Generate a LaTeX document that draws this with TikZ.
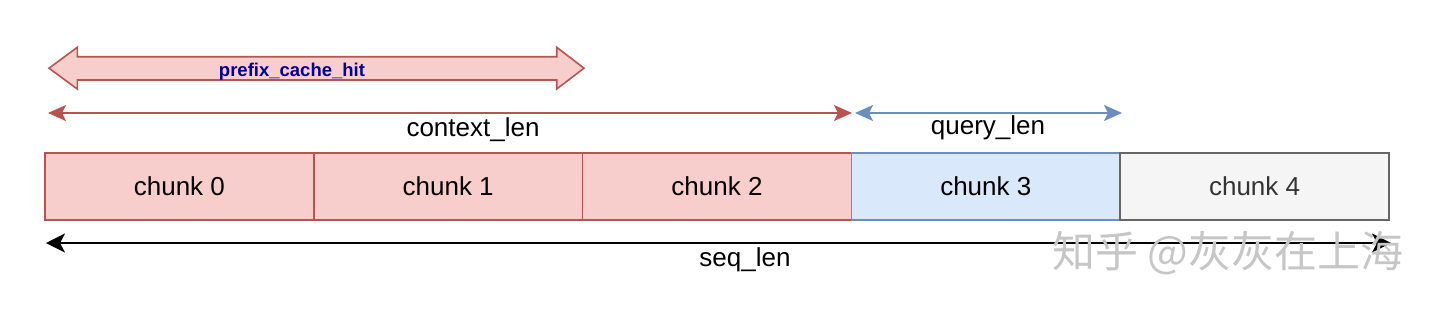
\documentclass[tikz,border=0pt]{standalone}
\usepackage{fontspec}
\setmainfont{Liberation Sans}
\newfontfamily\cjk{Noto Sans CJK SC}
\usetikzlibrary{arrows.meta,positioning}
\definecolor{hitfill}{HTML}{F8CECC}
\definecolor{hitline}{HTML}{B85450}
\definecolor{qryfill}{HTML}{DAE8FC}
\definecolor{qryline}{HTML}{6C8EBF}
\definecolor{restfill}{HTML}{F5F5F5}
\definecolor{restline}{HTML}{666666}
\definecolor{hitlabel}{HTML}{000099}

\begin{document}
\begin{tikzpicture}[x=1pt,y=-1pt,font=\fontsize{26}{30}\selectfont,
  chunk/.style={draw,line width=1.6pt,outer sep=0pt,inner sep=0pt,
    minimum width=268.8pt,minimum height=67pt},
  hitchunk/.style={chunk,fill=hitfill,draw=hitline},
  qrychunk/.style={chunk,fill=qryfill,draw=qryline},
  restchunk/.style={chunk,fill=restfill,draw=restline,text=black!80},
  lenarrow/.style={line width=1.6pt,{Stealth[length=18pt,width=16pt,inset=4pt]}-{Stealth[length=18pt,width=16pt,inset=4pt]}}]
  \useasboundingbox (0,0) rectangle (1440,314);
  % the five chunks of the sequence
  \node[hitchunk] (c0) at (179.4,186.5) {chunk 0};
  \node[hitchunk,right=0pt of c0] (c1) {chunk 1};
  \node[hitchunk,right=0pt of c1] (c2) {chunk 2};
  \node[qrychunk,right=0pt of c2] (c3) {chunk 3};
  \node[restchunk,right=0pt of c3] (c4) {chunk 4};
  % prefix cache hit (block arrow)
  \filldraw[fill=hitfill,draw=hitline,line width=1.6pt,line join=miter]
    (49,68.2) -- (77.3,47.3) -- (77.3,56.7) -- (556.7,56.7) -- (556.7,47.3)
    -- (584,68.2) -- (556.7,89) -- (556.7,80) -- (77.3,80)
    -- (77.3,89) -- cycle;
  \node[anchor=base,text=hitlabel,font=\bfseries\fontsize{18.5}{20}\selectfont] (hit) at (292,76) {prefix\_cache\_hit};
  % context / query lengths
  \coordinate (ctxL) at (48,113);
  \coordinate (ctxR) at (852,113);
  \coordinate (qryL) at (855,113);
  \coordinate (qryR) at (1122,113);
  \draw[lenarrow,hitline] (ctxL) -- (ctxR);
  \draw[lenarrow,qryline] (qryL) -- (qryR);
  \node[anchor=base] (ctx) at (473,136.5) {context\_len};
  \node[anchor=base] (qry) at (988,134) {query\_len};
  % whole sequence
  \coordinate (seqL) at (46,243);
  \coordinate (seqR) at (1391,243);
  \draw[line width=1.6pt,{Stealth[length=19pt,width=19pt,inset=5pt]}-{Stealth[length=19pt,width=19pt,inset=5pt]}] (seqL) -- (seqR);
  \node[anchor=base] (seq) at (745,266) {seq\_len};
  % watermark
  \node[text=gray!45,font=\cjk\fontsize{43}{46}\selectfont] (mark) at (1228,253.5) {知乎 @灰灰在上海};
\end{tikzpicture}
\end{document}
